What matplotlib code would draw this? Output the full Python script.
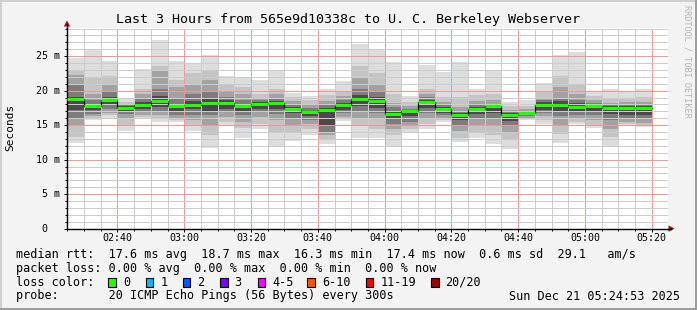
import numpy as np
import pandas as pd
import matplotlib
matplotlib.use("Agg")
import matplotlib.pyplot as plt
import matplotlib.dates as mdates
import matplotlib.transforms as mtransforms
from matplotlib.patches import Rectangle, Polygon
from matplotlib.lines import Line2D

# ---------------- data ----------------
title = "Last 3 Hours from 565e9d10338c to U. C. Berkeley Webserver"
start_time = pd.Timestamp("2025-12-21 02:24:53")
end_time = pd.Timestamp("2025-12-21 05:24:53")
first_bar = pd.Timestamp("2025-12-21 02:25:00")
n_bars = 35
bar_starts = pd.date_range(first_bar, periods=n_bars, freq="5min")
tick_labels = ["02:40", "03:00", "03:20", "03:40", "04:00", "04:20", "04:40", "05:00", "05:20"]
y_ticks = [0, 5, 10, 15, 20, 25]
y_tick_labels = ["0  ", "5 m", "10 m", "15 m", "20 m", "25 m"]

# RTT in ms, per 5-minute interval
rtt_max = [24.7, 25.9, 24.3, 18.8, 23.1, 27.3, 24.3, 24.0, 25.2, 22.1, 21.8, 21.5, 22.9, 19.7, 19.2, 20.3, 21.4, 26.8,
           26.1, 24.2, 19.2, 23.7, 22.7, 24.2, 20.2, 22.9, 18.3, 18.6, 21.1, 25.2, 25.6, 19.8, 20.3, 20.0, 20.2]
band2_hi = [23.0, 22.0, 22.1, 18.4, 20.3, 23.6, 21.5, 22.5, 23.0, 21.0, 20.5, 19.5, 20.3, 19.1, 18.6, 19.3, 20.0, 23.5,
            22.5, 19.5, 18.4, 20.3, 19.0, 19.0, 19.3, 19.5, 17.7, 17.7, 19.8, 22.1, 21.0, 19.2, 18.8, 18.9, 19.1]
band3_hi = [22.3, 19.5, 21.0, 18.1, 19.5, 22.8, 20.5, 21.0, 21.5, 20.0, 19.5, 18.9, 19.5, 18.5, 18.0, 18.5, 19.2, 22.0,
            21.0, 18.2, 17.8, 19.5, 18.3, 17.6, 18.5, 18.6, 17.2, 17.3, 19.0, 20.5, 19.5, 18.6, 18.2, 18.3, 18.4]
band4_hi = [21.0, 18.6, 20.0, 17.9, 18.8, 20.2, 19.0, 19.5, 20.0, 19.1, 18.6, 18.6, 18.9, 18.0, 17.5, 18.0, 18.6, 20.2,
            19.8, 17.6, 17.4, 19.0, 17.9, 17.0, 17.9, 18.1, 16.9, 17.1, 18.6, 19.0, 18.6, 18.2, 17.9, 17.9, 17.9]
band5_hi = [19.1, 18.0, 19.1, 17.7, 18.3, 19.2, 18.1, 18.5, 18.9, 18.6, 18.1, 18.3, 18.5, 17.6, 17.1, 17.5, 18.2, 19.3,
            19.0, 17.1, 17.2, 18.6, 17.6, 16.7, 17.6, 17.9, 16.7, 17.0, 18.3, 18.5, 18.2, 18.0, 17.7, 17.7, 17.7]
median = [18.8, 17.7, 18.6, 17.5, 17.9, 18.5, 17.7, 17.9, 18.2, 18.2, 17.7, 18.0, 18.2, 17.4, 16.9, 17.2, 17.9, 18.8,
          18.5, 16.6, 17.1, 18.4, 17.4, 16.4, 17.4, 17.7, 16.5, 16.8, 17.9, 17.9, 17.6, 17.8, 17.5, 17.5, 17.5]
band5_lo = [17.2, 17.2, 18.0, 17.0, 17.3, 17.6, 17.0, 17.3, 17.0, 17.4, 17.0, 17.4, 17.3, 16.7, 16.3, 15.0, 17.2, 17.8,
            17.5, 16.0, 16.3, 17.5, 16.8, 15.8, 16.6, 16.7, 15.6, 16.5, 17.2, 17.1, 17.0, 17.0, 16.6, 16.5, 16.5]
band4_lo = [16.0, 16.6, 17.4, 16.6, 16.9, 17.0, 16.5, 16.5, 16.4, 16.9, 16.4, 16.9, 16.6, 16.0, 15.8, 14.0, 16.7, 17.0,
            16.8, 15.2, 15.5, 16.8, 16.4, 15.0, 16.0, 16.0, 14.8, 16.3, 16.7, 16.3, 16.5, 16.5, 15.8, 16.0, 16.0]
band3_lo = [14.8, 16.3, 16.8, 16.0, 16.5, 16.5, 16.1, 15.8, 15.0, 16.2, 15.5, 16.2, 15.8, 15.0, 15.2, 13.5, 16.2, 16.0,
            16.0, 14.5, 15.0, 16.0, 16.0, 14.2, 15.0, 14.8, 13.8, 16.1, 16.3, 15.0, 16.0, 15.7, 14.5, 15.5, 15.3]
band2_lo = [13.3, 16.0, 16.4, 15.0, 16.2, 16.0, 15.8, 14.8, 13.5, 15.5, 14.6, 15.2, 14.0, 14.0, 14.4, 13.0, 15.9, 14.8,
            14.5, 13.5, 14.5, 15.2, 15.7, 13.2, 14.0, 13.5, 12.8, 15.9, 15.7, 13.7, 15.5, 15.0, 13.3, 15.1, 14.9]
rtt_min = [12.4, 15.7, 16.1, 14.1, 15.9, 15.5, 15.4, 14.1, 11.7, 14.8, 13.1, 14.5, 11.9, 12.7, 13.6, 12.2, 15.6, 13.1,
           13.1, 12.0, 14.0, 14.5, 15.5, 12.6, 13.1, 12.2, 11.6, 15.8, 15.2, 12.4, 15.2, 14.6, 12.0, 14.9, 14.7]

loss_labels = ["0", "1", "2", "3", "4-5", "6-10", "11-19", "20/20"]
loss_colors = ["#26ff00", "#00b8ff", "#0059ff", "#7e00ff", "#ff00ff", "#ff5500", "#ff0000", "#a00000"]

line_rtt = "median rtt:  17.6 ms avg  18.7 ms max  16.3 ms min  17.4 ms now  0.6 ms sd  29.1   am/s"
line_loss = "packet loss: 0.00 % avg  0.00 % max  0.00 % min  0.00 % now"
line_probe = "probe:       20 ICMP Echo Pings (56 Bytes) every 300s"
date_text = "Sun Dec 21 05:24:53 2025"

# ---------------- layout ----------------
W, H = 697, 310
MONO = "DejaVu Sans Mono"
fig = plt.figure(figsize=(W / 100, H / 100), dpi=100, facecolor="#f3f3f3")


def fx(px):
    return px / W


def fy(py):
    return 1 - py / H


ax_l, ax_r, ax_t, ax_b = 67, 668, 27.5, 228.6
ax = fig.add_axes([fx(ax_l), fy(ax_b), fx(ax_r - ax_l), (ax_b - ax_t) / H])
ax.set_facecolor("white")

xs = mdates.date2num(bar_starts.to_pydatetime())
bw = 5 / 1440.0
bands = [(rtt_min, rtt_max, "#dddddd"),
         (band2_lo, band2_hi, "#c4c4c4"),
         (band3_lo, band3_hi, "#a2a2a2"),
         (band4_lo, band4_hi, "#7c7c7c"),
         (band5_lo, band5_hi, "#4a4a4a")]
for lo, hi, col in bands:
    lo = np.array(lo)
    hi = np.array(hi)
    ax.bar(xs, hi - lo, bottom=lo, width=bw, align="edge", color=col, linewidth=0, zorder=1)

med = np.array(median)
# dark step connectors
step_x = np.append(xs, xs[-1] + bw)
step_y = np.append(med, med[-1])
ax.step(step_x, step_y, where="post", color="#101010", lw=0.9, zorder=3)
ax.hlines(med, xs, xs + bw, colors=loss_colors[0], lw=2.2, zorder=4)

ax.set_xlim(mdates.date2num(start_time.to_pydatetime()), mdates.date2num(end_time.to_pydatetime()))
ax.set_ylim(0, (ax_b - ax_t) / 6.9)

tick_pos = [mdates.date2num(pd.Timestamp("2025-12-21 " + t).to_pydatetime()) for t in tick_labels]
ax.set_xticks(tick_pos)
ax.set_xticklabels(tick_labels)
ax.xaxis.set_minor_locator(mdates.MinuteLocator(byminute=range(0, 60, 5)))
ax.set_yticks(y_ticks)
ax.set_yticklabels([])
ax.yaxis.set_minor_locator(matplotlib.ticker.MultipleLocator(1))

# y tick labels, right-aligned on a monospace character grid
ylab_tr = mtransforms.blended_transform_factory(fig.transFigure, ax.transData)
char_w = 0.602 * 7.2 / 72 * 100
for v, lbl in zip(y_ticks, y_tick_labels):
    ax.text(fx(60.5 - char_w * len(lbl)), v, lbl, transform=ylab_tr, family=MONO, fontsize=7.2,
            ha="left", va="center", clip_on=False)

ax.grid(which="minor", color="#cccccc", lw=0.72, linestyle=(0, (1, 1)), antialiased=False)
ax.grid(which="major", color="#eb9a9a", lw=0.72, linestyle=(0, (1, 1)), antialiased=False)

for s in ["top", "right"]:
    ax.spines[s].set_visible(False)
for s in ["left", "bottom"]:
    ax.spines[s].set_color("black")
    ax.spines[s].set_linewidth(1.0)

ax.tick_params(axis="both", which="major", length=2.5, width=0.7, direction="out",
               labelsize=7.2, pad=1.0, colors="black")
ax.tick_params(axis="both", which="minor", length=1.5, width=0.7, direction="out")
for lab in ax.get_xticklabels():
    lab.set_fontfamily(MONO)

# axis extensions and arrows
fig.add_artist(Line2D([fx(ax_l), fx(ax_l)], [fy(ax_t), fy(24)], color="black", lw=1.0))
fig.add_artist(Line2D([fx(ax_r), fx(671)], [fy(ax_b), fy(ax_b)], color="black", lw=1.0))
arrow_col = "#9a1010"
fig.add_artist(Polygon([[fx(67), fy(20.5)], [fx(63.8), fy(26.5)], [fx(70.2), fy(26.5)]],
                       closed=True, color=arrow_col, lw=0))
fig.add_artist(Polygon([[fx(674.5), fy(ax_b)], [fx(668.5), fy(ax_b - 3.2)], [fx(668.5), fy(ax_b + 3.2)]],
                       closed=True, color=arrow_col, lw=0))

# texts
fig.text(fx(348), fy(19), title, family=MONO, fontsize=9.6, ha="center", va="center", color="black")
fig.text(fx(10), fy(127), "Seconds", family=MONO, fontsize=8.0, rotation=90, ha="center", va="center")
fig.text(fx(687), fy(5), "RRDTOOL / TOBI OETIKER", family=MONO, fontsize=6.1, rotation=270,
         ha="center", va="top", color="#b4b4b4")

fig.text(fx(16), fy(254.3), line_rtt, family=MONO, fontsize=8.5, ha="left", va="center")
fig.text(fx(16), fy(268.3), line_loss, family=MONO, fontsize=8.5, ha="left", va="center")
fig.text(fx(16), fy(282.3), "loss color:", family=MONO, fontsize=8.5, ha="left", va="center")
fig.text(fx(16), fy(296.0), line_probe, family=MONO, fontsize=8.5, ha="left", va="center")
fig.text(fx(680), fy(296.0), date_text, family=MONO, fontsize=8.5, ha="right", va="center")

box_x = [108.3, 145.7, 182.7, 220.0, 257.7, 307.3, 365.7, 431.0]
for bx, lbl, col in zip(box_x, loss_labels, loss_colors):
    fig.add_artist(Rectangle((fx(bx), fy(286.5)), fx(7.7), 8.2 / H, facecolor=col,
                             edgecolor="black", lw=0.8))
    fig.text(fx(bx + 14.5), fy(282.3), lbl, family=MONO, fontsize=8.5, ha="left", va="center")

# 3D border
fig.add_artist(Rectangle((0, 1 - 2 / H), 1, 2 / H, color="#cfcfcf", lw=0))
fig.add_artist(Rectangle((0, 0), 2 / W, 1, color="#cfcfcf", lw=0))
fig.add_artist(Rectangle((0, 0), 1, 2 / H, color="#9e9e9e", lw=0))
fig.add_artist(Rectangle((1 - 2 / W, 0), 2 / W, 1, color="#9e9e9e", lw=0))

fig.savefig("out.png", dpi=100, facecolor=fig.get_facecolor())
